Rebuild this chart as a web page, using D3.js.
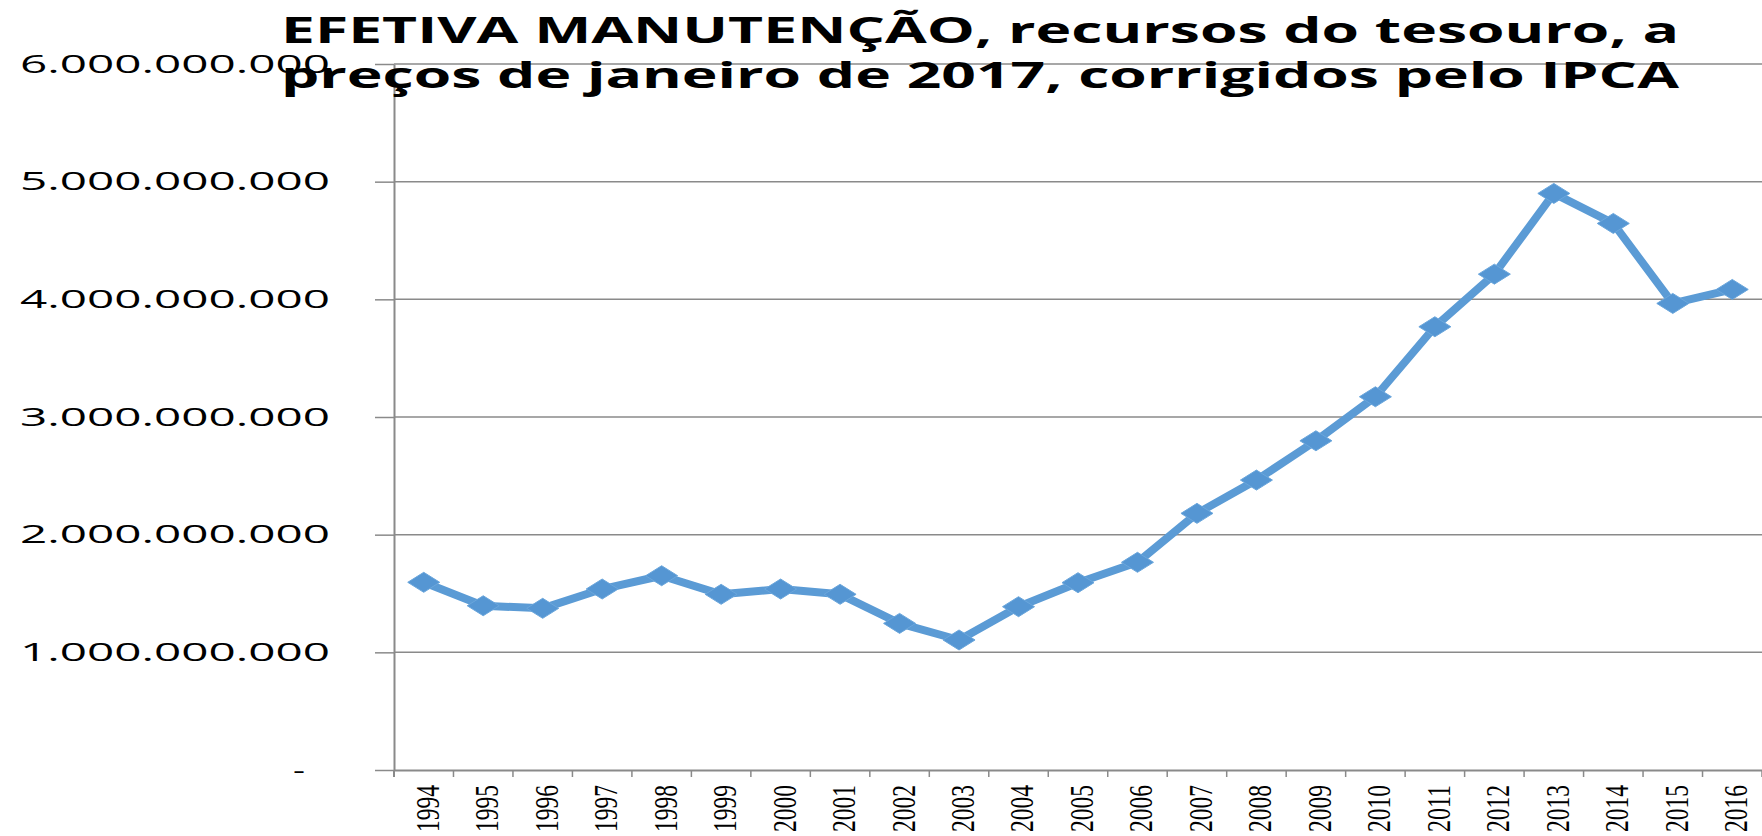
<!DOCTYPE html>
<html>
<head>
<meta charset="utf-8">
<script src="https://cdn.jsdelivr.net/npm/d3@7"></script>
<style>
  body { margin: 0; background: #fff; }
  svg { display: block; }
</style>
</head>
<body>
<div id="chart"></div>
<script>
// data
var years = ["1994", "1995", "1996", "1997", "1998", "1999", "2000", "2001",
             "2002", "2003", "2004", "2005", "2006", "2007", "2008", "2009",
             "2010", "2011", "2012", "2013", "2014", "2015", "2016"];
var values = [1595e6, 1396e6, 1374e6, 1538e6, 1651e6, 1493e6, 1538e6, 1493e6,
              1246e6, 1105e6, 1388e6, 1592e6, 1765e6, 2181e6, 2464e6, 2798e6,
              3172e6, 3767e6, 4214e6, 4900e6, 4645e6, 3965e6, 4084e6];
var yTicks = [0, 1e9, 2e9, 3e9, 4e9, 5e9, 6e9];
var titleLines = ["EFETIVA MANUTENÇÃO, recursos do tesouro, a",
                  "preços de janeiro de 2017, corrigidos pelo IPCA"];

var W = 1762, H = 836;
var margin = {top: 64, right: 0, bottom: 66, left: 394},
    width = W - margin.left - margin.right,
    height = H - margin.top - margin.bottom;

var blue = "#5B9BD5",
    gray = "#8a8a8a";

var svg = d3.select("#chart").append("svg")
    .attr("width", W)
    .attr("height", H);

var g = svg.append("g")
    .attr("transform", "translate(" + margin.left + "," + margin.top + ")");

var x = d3.scaleBand().domain(years).range([0, width]);
var y = d3.scaleLinear().domain([0, 6e9]).range([height, 0]);

// pt-BR style number: 5.000.000.000, zero shown as a dash
var locale = d3.formatLocale({decimal: ",", thousands: ".", grouping: [3], currency: ["R$", ""]});
var fmt = locale.format(",");

// gridlines
g.append("g")
    .selectAll("line")
    .data(yTicks.filter(function(d) { return d > 0; }))
    .enter().append("line")
    .attr("x1", 0)
    .attr("x2", width)
    .attr("y1", function(d) { return y(d); })
    .attr("y2", function(d) { return y(d); })
    .style("stroke", gray)
    .style("stroke-width", 1.5);

// y axis
var yAxis = g.append("g")
    .call(d3.axisLeft(y)
        .tickValues(yTicks)
        .tickSize(19)
        .tickSizeOuter(0)
        .tickPadding(45)
        .tickFormat(function(d) { return d === 0 ? "-" : fmt(d); }));

yAxis.select(".domain").style("stroke", gray).style("stroke-width", 2);
yAxis.selectAll(".tick line").style("stroke", gray).style("stroke-width", 1.5);
yAxis.selectAll(".tick text")
    .style("font-family", "'Open Sans', sans-serif")
    .style("font-size", "26px")
    .style("fill", "#000")
    .attr("lengthAdjust", "spacingAndGlyphs")
    .attr("textLength", function(d) { return d === 0 ? 12 : 310; })
    .attr("x", function(d) { return d === 0 ? -89 : -64; });

// y axis runs a little below the x axis
g.append("line")
    .attr("x1", 0).attr("x2", 0)
    .attr("y1", height).attr("y2", height + 7)
    .style("stroke", gray).style("stroke-width", 2);

// x axis
var xAxis = g.append("g")
    .attr("transform", "translate(0," + height + ")")
    .call(d3.axisBottom(x).tickSize(0).tickSizeOuter(0));

xAxis.select(".domain").style("stroke", gray).style("stroke-width", 2);
xAxis.selectAll(".tick text")
    .attr("transform", "rotate(-90)")
    .attr("text-anchor", "end")
    .attr("x", -15)
    .attr("y", 0)
    .attr("dy", "0.44em")
    .attr("lengthAdjust", "spacingAndGlyphs")
    .attr("textLength", 47)
    .style("font-family", "'Liberation Serif', 'Times New Roman', serif")
    .style("font-size", "34px")
    .style("fill", "#000");

// category boundary ticks
xAxis.append("g")
    .selectAll("line")
    .data(years.slice(1).concat(["end"]))
    .enter().append("line")
    .attr("x1", function(d, i) { return x.step() * (i + 1); })
    .attr("x2", function(d, i) { return x.step() * (i + 1); })
    .attr("y1", 0)
    .attr("y2", 7)
    .style("stroke", gray)
    .style("stroke-width", 1.5);

// the series
var line = d3.line()
    .x(function(d, i) { return x(years[i]) + x.bandwidth() / 2; })
    .y(function(d) { return y(d); });

g.append("path")
    .datum(values)
    .attr("d", line)
    .style("fill", "none")
    .style("stroke", blue)
    .style("stroke-width", 8)
    .style("stroke-linejoin", "round");

/**
 * Wide diamond marker, like the stretched Excel marker.
 */
function diamond(hw, hh) {
    return "M" + (-hw) + ",0L0," + (-hh) + "L" + hw + ",0L0," + hh + "Z";
}

g.append("g")
    .selectAll("path")
    .data(values)
    .enter().append("path")
    .attr("transform", function(d, i) {
        return "translate(" + (x(years[i]) + x.bandwidth() / 2) + "," + y(d) + ")";
    })
    .attr("d", diamond(16, 10))
    .style("fill", "#5596d3")
    .style("stroke", "#6aa6dc")
    .style("stroke-width", 1);

// title
svg.append("g")
    .selectAll("text")
    .data(titleLines)
    .enter().append("text")
    .attr("x", 281)
    .attr("y", function(d, i) { return 43 + i * 45; })
    .attr("lengthAdjust", "spacingAndGlyphs")
    .attr("textLength", 1398)
    .style("font-family", "'Open Sans', sans-serif")
    .style("font-weight", "bold")
    .style("font-size", "36px")
    .style("fill", "#000")
    .text(function(d) { return d; });
</script>
</body>
</html>
